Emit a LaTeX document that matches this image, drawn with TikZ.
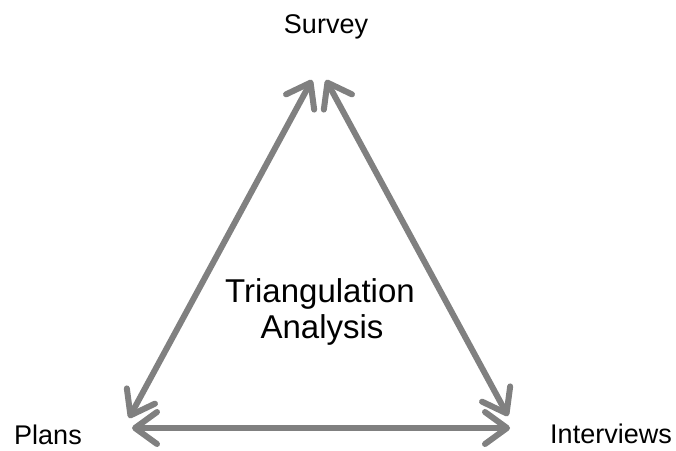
\documentclass[tikz,border=0pt]{standalone}
\usepackage{fontspec}
\setmainfont{Liberation Sans}
\usetikzlibrary{arrows.meta}
\definecolor{linkgrey}{HTML}{808080}
\begin{document}
\begin{tikzpicture}[x=1pt,y=-1pt,
  barb/.tip={Straight Barb[length=22pt,width=32pt,round]},
  link/.style={draw=linkgrey, line width=6pt, barb-barb},
  corner/.style={font=\fontsize{27}{32}\selectfont, inner sep=0pt, anchor=base},
  centre/.style={font=\fontsize{33}{38}\selectfont, inner sep=0pt, anchor=base}]
\useasboundingbox (0,0) rectangle (676,450);

% vertex labels
\node[corner] (survey) at (326,33) {Survey};
\node[corner] (plans) at (48,444) {Plans};
\node[corner] (interviews) at (611,443) {Interviews};

% centre text
\node[centre] (tri) at (320,302) {Triangulation};
\node[centre] (ana) at (322,338) {Analysis};

% arrow end points
\coordinate (topL) at (312,80);
\coordinate (topR) at (326,80);
\coordinate (leftD) at (129,418);
\coordinate (leftH) at (132,428);
\coordinate (rightD) at (508,416);
\coordinate (rightH) at (510,428);

% double-headed connectors
\draw[link] (topL) -- (leftD);
\draw[link] (topR) -- (rightD);
\draw[link] (leftH) -- (rightH);
\end{tikzpicture}
\end{document}
